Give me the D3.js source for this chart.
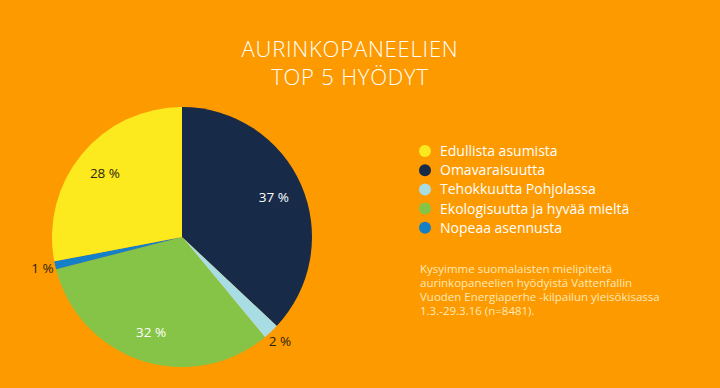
<!DOCTYPE html>
<html>
<head>
<meta charset="utf-8">
<script src="https://cdn.jsdelivr.net/npm/d3@7"></script>
<style>
  body { margin: 0; background: #fd9a00; }
  text { font-family: "Open Sans", sans-serif; }
</style>
</head>
<body>
<div id="chart"></div>
<script>
// data
var categories = ["Omavaraisuutta", "Tehokkuutta Pohjolassa", "Ekologisuutta ja hyvää mieltä", "Nopeaa asennusta", "Edullista asumista"];
var values = [37, 2, 32, 1, 28];
var colors = ["#172b48", "#a8dde4", "#85c446", "#1580c8", "#fcea1e"];
var legendOrder = ["Edullista asumista", "Omavaraisuutta", "Tehokkuutta Pohjolassa", "Ekologisuutta ja hyvää mieltä", "Nopeaa asennusta"];
var titleLines = ["AURINKOPANEELIEN", "TOP 5 HYÖDYT"];
var noteLines = ["Kysyimme suomalaisten mielipiteitä", "aurinkopaneelien hyödyistä Vattenfallin", "Vuoden Energiaperhe -kilpailun yleisökisassa", "1.3.-29.3.16 (n=8481)."];

var width = 720, height = 388;
var cx = 182, cy = 237, radius = 130;

var svg = d3.select("#chart")
  .append("svg")
    .attr("width", width)
    .attr("height", height);

svg.append("rect")
  .attr("width", width)
  .attr("height", height)
  .attr("fill", "#fd9a00");

// title
svg.selectAll(".title")
  .data(titleLines)
  .join("text")
    .attr("x", 350)
    .attr("y", (d, i) => 57 + i * 28)
    .attr("text-anchor", "middle")
    .attr("fill", "#fff")
    .attr("font-size", 22)
    .attr("font-weight", 300)
    .attr("letter-spacing", 0.8)
    .text(d => d);

var color = d3.scaleOrdinal().domain(categories).range(colors);

var pie = d3.pie().sort(null).value(d => d.value);
var data = categories.map((c, i) => ({name: c, value: values[i]}));
var arcs = pie(data);

var arc = d3.arc().innerRadius(0).outerRadius(radius);
var labelArc = d3.arc().innerRadius(100).outerRadius(100);
var outerArc = d3.arc().innerRadius(143).outerRadius(143);

var g = svg.append("g")
  .attr("transform", `translate(${cx},${cy})`);

g.selectAll("path")
  .data(arcs)
  .join("path")
    .attr("d", arc)
    .attr("fill", d => color(d.data.name));

// percentage labels: small slices outside
g.selectAll(".lbl")
  .data(arcs)
  .join("text")
    .attr("transform", d => {
      var p = d.data.value < 5 ? outerArc.centroid(d) : labelArc.centroid(d);
      return `translate(${p[0]},${p[1]})`;
    })
    .attr("dy", "0.35em")
    .attr("text-anchor", "middle")
    .attr("font-size", 13.5)
    .attr("fill", d => (d.data.value < 5 || d.data.name == "Edullista asumista") ? "#2e2510" : "#fff")
    .text(d => d.data.value + " %");

// legend
var legend = svg.append("g")
  .attr("transform", "translate(425,151)");

var rows = legend.selectAll("g")
  .data(legendOrder)
  .join("g")
    .attr("transform", (d, i) => `translate(0,${i * 19.2})`);

rows.append("circle")
  .attr("r", 6)
  .attr("fill", d => color(d));

rows.append("text")
  .attr("x", 15)
  .attr("dy", "0.35em")
  .attr("fill", "#fff")
  .attr("font-size", 14)
  .text(d => d);

// note
svg.selectAll(".note")
  .data(noteLines)
  .join("text")
    .attr("x", 420)
    .attr("y", (d, i) => 273 + i * 14)
    .attr("fill", "#ffe9b8")
    .attr("font-size", 11.5)
    .text(d => d);
</script>
</body>
</html>
